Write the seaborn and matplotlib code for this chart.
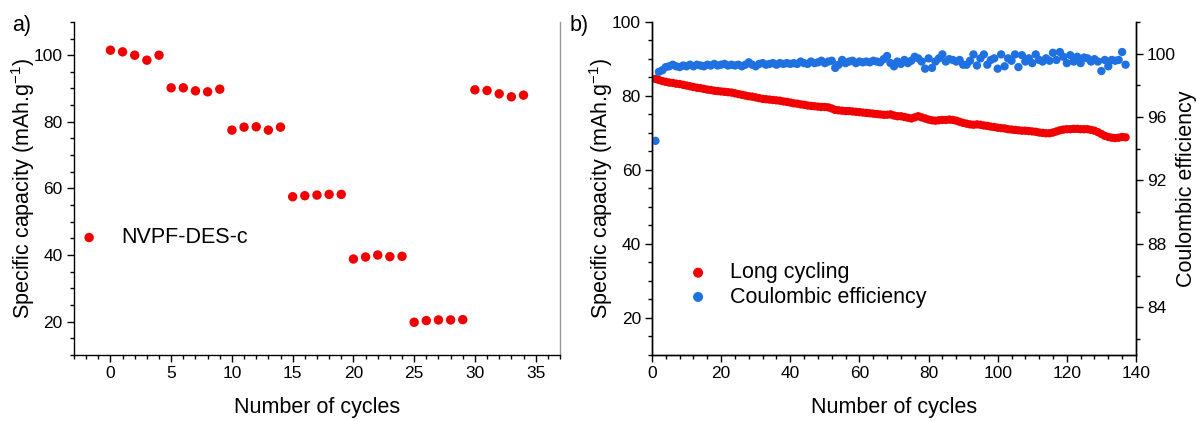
import numpy as np
import pandas as pd
import matplotlib
matplotlib.use("Agg")
import matplotlib.pyplot as plt
from matplotlib.ticker import MultipleLocator
import seaborn as sns

# ---- panel a: rate capability ----
rate_cycles = list(range(35))
rate_capacity = [101.5, 101.0, 100.0, 98.5, 100.0,
                 90.2, 90.2, 89.3, 89.0, 89.8,
                 77.5, 78.4, 78.5, 77.5, 78.4,
                 57.5, 57.8, 58.0, 58.2, 58.2,
                 38.8, 39.4, 40.0, 39.5, 39.6,
                 19.8, 20.3, 20.5, 20.5, 20.6,
                 89.6, 89.4, 88.4, 87.5, 88.0]

# ---- panel b: long cycling ----
long_cycles = list(range(1, 138))
long_capacity = [84.6, 84.3, 84.0, 83.8, 83.6, 83.5, 83.3, 83.2, 83.0, 82.8,
                 82.6, 82.4, 82.2, 82.1, 81.9, 81.7, 81.6, 81.4, 81.3, 81.2,
                 81.1, 81.0, 80.9, 80.7, 80.5, 80.3, 80.1, 79.9, 79.8, 79.6,
                 79.4, 79.2, 79.1, 79.0, 78.9, 78.8, 78.7, 78.5, 78.4, 78.2,
                 78.0, 77.9, 77.7, 77.6, 77.4, 77.3, 77.2, 77.1, 77.0, 77.0,
                 76.9, 76.6, 76.2, 76.1, 76.0, 75.9, 75.9, 75.8, 75.7, 75.6,
                 75.5, 75.4, 75.3, 75.2, 75.1, 75.0, 74.9, 74.9, 75.0, 74.7,
                 74.5, 74.5, 74.3, 74.1, 73.9, 74.2, 74.5, 74.2, 73.9, 73.6,
                 73.4, 73.3, 73.4, 73.5, 73.5, 73.6, 73.5, 73.3, 73.0, 72.7,
                 72.5, 72.3, 72.2, 72.3, 72.2, 72.0, 71.9, 71.7, 71.6, 71.4,
                 71.3, 71.2, 71.0, 70.9, 70.8, 70.7, 70.6, 70.6, 70.5, 70.4,
                 70.3, 70.1, 70.0, 69.9, 69.9, 70.1, 70.4, 70.7, 70.9, 71.0,
                 71.0, 71.1, 71.1, 71.0, 71.0, 71.0, 70.8, 70.6, 70.2, 69.7,
                 69.2, 68.9, 68.7, 68.6, 68.7, 68.9, 68.8]
coulombic_eff = [94.5, 98.85, 98.95, 99.15, 99.2, 99.3, 99.2, 99.15, 99.25, 99.2,
                 99.3, 99.2, 99.3, 99.25, 99.2, 99.3, 99.25, 99.35, 99.25, 99.3,
                 99.35, 99.25, 99.3, 99.25, 99.3, 99.2, 99.3, 99.45, 99.3, 99.2,
                 99.35, 99.4, 99.3, 99.35, 99.4, 99.3, 99.4, 99.35, 99.4, 99.35,
                 99.4, 99.35, 99.5, 99.4, 99.35, 99.5, 99.4, 99.45, 99.55, 99.4,
                 99.5, 99.55, 99.1, 99.3, 99.6, 99.4, 99.5, 99.55, 99.4, 99.5,
                 99.45, 99.5, 99.45, 99.55, 99.5, 99.45, 99.65, 99.85, 99.4, 99.2,
                 99.5, 99.35, 99.6, 99.4, 99.55, 99.8, 99.7, 99.5, 99.05, 99.7,
                 99.1, 99.5, 99.7, 99.95, 99.5, 99.65, 99.6, 99.5, 99.6, 99.3,
                 99.3, 99.55, 99.95, 99.25, 99.7, 99.95, 99.3, 99.6, 99.7, 99.05,
                 99.95, 99.2, 99.7, 99.55, 99.95, 99.15, 99.9, 99.5, 99.7, 99.4,
                 99.95, 99.6, 99.5, 99.7, 99.55, 100.05, 99.6, 100.1, 99.8, 99.4,
                 99.9, 99.5, 99.8, 99.4, 99.75, 99.7, 99.5, 99.65, 99.5, 98.9,
                 99.6, 99.2, 99.6, 99.55, 99.6, 100.1, 99.3]

RED = "#f00000"
BLUE = "#1f70e0"

sns.set_style("ticks")
plt.rcParams['font.family'] = ['Liberation Sans', 'DejaVu Sans']
plt.rcParams['mathtext.default'] = 'regular'
plt.rcParams['text.color'] = 'black'
plt.rcParams['axes.labelcolor'] = 'black'
plt.rcParams['xtick.color'] = 'black'
plt.rcParams['ytick.color'] = 'black'

TICK_FS = 12.5
LABEL_FS = 15.5

fig = plt.figure(figsize=(11.97, 4.21), dpi=100)
ax_a = fig.add_axes([0.0618, 0.157, 0.406, 0.791])
ax_b = fig.add_axes([0.5447, 0.157, 0.4043, 0.791])


def style_axis(ax):
    ax.tick_params(which='major', direction='out', length=5, width=1,
                   labelsize=TICK_FS, color='black', labelcolor='black', pad=3)
    ax.tick_params(which='minor', direction='out', length=3, width=1, color='black')
    for s in ax.spines.values():
        s.set_linewidth(1)
        s.set_color('black')


# panel a
df_a = pd.DataFrame({"cycle": rate_cycles, "capacity": rate_capacity})
sns.scatterplot(data=df_a, x="cycle", y="capacity", ax=ax_a, color=RED,
                s=46, edgecolor='none', label="NVPF-DES-c")
ax_a.set_xlim(-3, 37)
ax_a.set_ylim(10, 110)
ax_a.xaxis.set_major_locator(MultipleLocator(5))
ax_a.xaxis.set_minor_locator(MultipleLocator(1))
ax_a.set_yticks([20, 40, 60, 80, 100])
ax_a.yaxis.set_minor_locator(MultipleLocator(5))
style_axis(ax_a)
ax_a.spines['top'].set_visible(False)
ax_a.spines['right'].set_color('#9a9a9a')
ax_a.set_xlabel("Number of cycles", fontsize=LABEL_FS)
ax_a.set_ylabel("Specific capacity (mAh.g$^{-1}$)", fontsize=LABEL_FS)
ax_a.xaxis.set_label_coords(0.5, -0.126)
ax_a.yaxis.set_label_coords(-0.076, 0.5)
ax_a.legend(loc='center left', bbox_to_anchor=(0.009, 0.352), frameon=False,
            fontsize=LABEL_FS, handlelength=1.0, handletextpad=1.0,
            borderpad=0, borderaxespad=0, markerscale=1.0)

# panel b
df_b = pd.DataFrame({"cycle": long_cycles, "capacity": long_capacity,
                     "ce": coulombic_eff})
ax_b2 = ax_b.twinx()
sns.scatterplot(data=df_b, x="cycle", y="capacity", ax=ax_b, color=RED,
                s=36, edgecolor='none', label="Long cycling", legend=False)
sns.scatterplot(data=df_b, x="cycle", y="ce", ax=ax_b2, color=BLUE,
                s=36, edgecolor='none', label="Coulombic efficiency", legend=False)
ax_b.set_xlim(0, 140)
ax_b.set_ylim(10, 100)
ax_b2.set_ylim(81, 102)
ax_b.xaxis.set_major_locator(MultipleLocator(20))
ax_b.xaxis.set_minor_locator(MultipleLocator(4))
ax_b.set_yticks([20, 40, 60, 80, 100])
ax_b.yaxis.set_minor_locator(MultipleLocator(5))
ax_b2.set_yticks([84, 88, 92, 96, 100])
ax_b2.yaxis.set_minor_locator(MultipleLocator(2))
style_axis(ax_b)
style_axis(ax_b2)
for a in (ax_b, ax_b2):
    a.spines['top'].set_visible(False)
ax_b.set_xlabel("Number of cycles", fontsize=LABEL_FS)
ax_b.set_ylabel("Specific capacity (mAh.g$^{-1}$)", fontsize=LABEL_FS)
ax_b2.set_ylabel("Coulombic efficiency", fontsize=LABEL_FS)
ax_b.xaxis.set_label_coords(0.5, -0.126)
ax_b.yaxis.set_label_coords(-0.076, 0.5)
ax_b2.yaxis.set_label_coords(1.082, 0.5)

h1, l1 = ax_b.get_legend_handles_labels()
h2, l2 = ax_b2.get_legend_handles_labels()
ax_b2.legend(h1 + h2, l1 + l2, loc='center left', bbox_to_anchor=(0.073, 0.21),
             frameon=False, fontsize=LABEL_FS, handlelength=1.0, handletextpad=1.0,
             borderpad=0, borderaxespad=0, labelspacing=0.15, markerscale=1.2)

fig.text(12 / 1197, 1 - 25 / 421, "a)", fontsize=LABEL_FS, va='center', ha='left')
fig.text(570 / 1197, 1 - 25 / 421, "b)", fontsize=LABEL_FS, va='center', ha='left')

fig.savefig("out.png", dpi=100)
